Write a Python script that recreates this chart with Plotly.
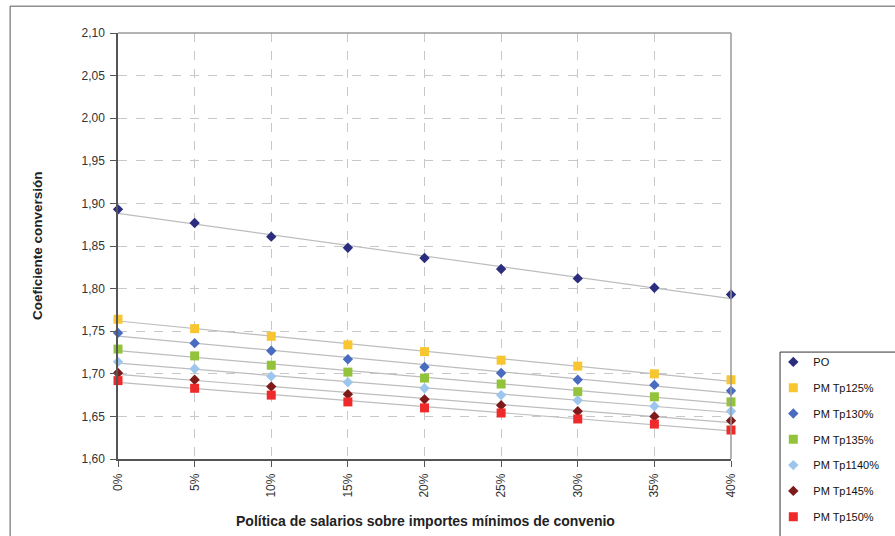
import numpy as np
import plotly.graph_objects as go

# Salary policy over minimum agreement amounts (%)
policy_pct = [0, 5, 10, 15, 20, 25, 30, 35, 40]
policy_labels = ["0%", "5%", "10%", "15%", "20%", "25%", "30%", "35%", "40%"]

# Conversion coefficient per series
po = [1.893, 1.877, 1.861, 1.848, 1.836, 1.823, 1.812, 1.801, 1.793]
pm_tp125 = [1.764, 1.753, 1.744, 1.734, 1.726, 1.716, 1.709, 1.700, 1.693]
pm_tp130 = [1.748, 1.736, 1.727, 1.717, 1.708, 1.701, 1.693, 1.687, 1.680]
pm_tp135 = [1.729, 1.721, 1.710, 1.702, 1.695, 1.688, 1.679, 1.673, 1.667]
pm_tp1140 = [1.714, 1.706, 1.697, 1.690, 1.683, 1.675, 1.669, 1.662, 1.656]
pm_tp145 = [1.701, 1.693, 1.685, 1.676, 1.670, 1.663, 1.656, 1.650, 1.645]
pm_tp150 = [1.692, 1.683, 1.675, 1.667, 1.660, 1.654, 1.647, 1.641, 1.634]

y_ticks = [1.60, 1.65, 1.70, 1.75, 1.80, 1.85, 1.90, 1.95, 2.00, 2.05, 2.10]

series = [
    ("PO", po, "diamond", "#2B2D7E", 8),
    ("PM Tp125%", pm_tp125, "square", "#F7C631", 9),
    ("PM Tp130%", pm_tp130, "diamond", "#4A6CC0", 8),
    ("PM Tp135%", pm_tp135, "square", "#93C33B", 9),
    ("PM Tp1140%", pm_tp1140, "diamond", "#9DC6EE", 8),
    ("PM Tp145%", pm_tp145, "diamond", "#7E1A1A", 8),
    ("PM Tp150%", pm_tp150, "square", "#EE2A2A", 9),
]

fig = go.Figure()

# Linear trend lines for each series
x_arr = np.array(policy_pct, dtype=float)
for name, vals, sym, col, sz in series:
    slope, intercept = np.polyfit(x_arr, np.array(vals), 1)
    fig.add_trace(go.Scatter(
        x=[x_arr[0], x_arr[-1]],
        y=[intercept + slope * x_arr[0], intercept + slope * x_arr[-1]],
        mode="lines", line=dict(color="#BDBDBD", width=1.2),
        showlegend=False, hoverinfo="skip", cliponaxis=False,
    ))

for i, (name, vals, sym, col, sz) in enumerate(series):
    fig.add_trace(go.Scatter(
        x=policy_pct, y=vals, mode="markers", name=name,
        marker=dict(symbol=sym, color=col, size=sz, line=dict(width=0)),
        cliponaxis=False, legendgroup=f"g{i}",
    ))

axis_font = dict(family="Liberation Sans, Arial, sans-serif", size=12, color="#333333")
title_family = "Liberation Sans Narrow, Arial Narrow, Liberation Sans, sans-serif"

fig.update_layout(
    width=895, height=536,
    margin=dict(l=118, r=164, t=33, b=77, autoexpand=False),
    paper_bgcolor="white", plot_bgcolor="white",
    separators=",.",
    xaxis=dict(
        range=[0, 40], tickvals=policy_pct, ticktext=policy_labels,
        tickangle=-90, ticks="outside", ticklen=6, tickcolor="#555555",
        showline=True, linecolor="#555555", linewidth=1.5,
        showgrid=True, gridcolor="#C8C8C8", griddash="dash", gridwidth=1,
        zeroline=False, tickfont=axis_font, ticklabelstandoff=2,
    ),
    yaxis=dict(
        range=[1.60, 2.10], tickvals=y_ticks, tickformat=".2f",
        ticks="outside", ticklen=6, tickcolor="#555555",
        showline=True, linecolor="#555555", linewidth=1.5,
        showgrid=True, gridcolor="#C8C8C8", griddash="dash", gridwidth=1,
        zeroline=False, tickfont=axis_font, ticklabelstandoff=3,
    ),
    legend=dict(
        x=1.069, y=0.262, xanchor="left", yanchor="top",
        bgcolor="rgba(0,0,0,0)", borderwidth=0,
        font=dict(family="Liberation Sans, Arial, sans-serif", size=11, color="#111111"),
        tracegroupgap=6.8, itemsizing="trace",
    ),
    shapes=[
        # plot area frame (top and right edges)
        dict(type="line", xref="paper", yref="paper", x0=0, x1=1, y0=1, y1=1,
             line=dict(color="#9A9A9A", width=1.5)),
        dict(type="line", xref="paper", yref="paper", x0=1, x1=1, y0=0, y1=1,
             line=dict(color="#9A9A9A", width=1.5)),
        # chart area frame
        dict(type="rect", xref="paper", yref="paper",
             x0=-0.176, x1=1.4, y0=-0.3, y1=1.063,
             line=dict(color="#555555", width=1), layer="below"),
        # legend frame
        dict(type="rect", xref="paper", yref="paper",
             x0=1.080, x1=1.4, y0=-0.3, y1=0.251,
             line=dict(color="#333333", width=1), fillcolor="white", layer="below"),
    ],
    annotations=[
        dict(text="<b>Coeficiente conversión</b>", xref="paper", yref="paper",
             x=-0.132, y=0.5, xanchor="center", yanchor="middle",
             textangle=-90, showarrow=False,
             font=dict(family=title_family, size=13.5, color="#222222")),
        dict(text="<b>Política de salarios sobre importes mínimos de convenio</b>",
             xref="paper", yref="paper", x=0.502, y=-0.146,
             xanchor="center", yanchor="middle", showarrow=False,
             font=dict(family=title_family, size=14, color="#222222")),
    ],
)

fig.write_html("out.html")
